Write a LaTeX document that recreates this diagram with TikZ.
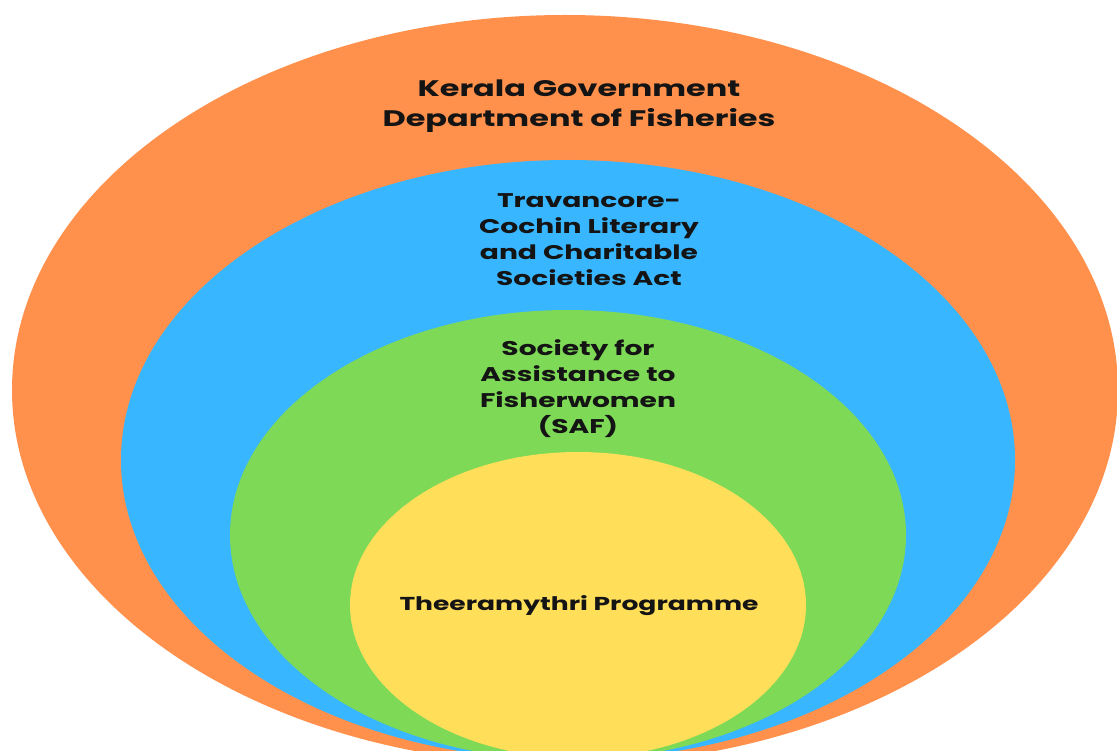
\documentclass[tikz,border=0pt]{standalone}
\usepackage{fontspec}
\setmainfont{Poppins}
\newfontfamily\widefont[FakeStretch=1.42]{Poppins}
\usetikzlibrary{shapes.geometric}
\definecolor{orng}{HTML}{FF914D}
\definecolor{blu}{HTML}{38B6FF}
\definecolor{grn}{HTML}{7ED957}
\definecolor{ylw}{HTML}{FFDE59}
\definecolor{txt}{HTML}{141414}
\begin{document}
\begin{tikzpicture}[x=1pt,y=-1pt,
  ring/.style={ellipse, inner sep=0pt, draw=none},
  lbl/.style={font=\widefont\bfseries\fontsize{19.8}{26}\selectfont, align=center, text=txt, inner sep=0pt},
  biglbl/.style={font=\widefont\bfseries\fontsize{22.5}{30}\selectfont, align=center, text=txt, inner sep=0pt}]
\useasboundingbox (0,0) rectangle (1117,751);
\clip (0,0) rectangle (1117,751);
\node[ring, fill=orng, minimum width=1106pt, minimum height=750pt] (orange) at (565,390) {};
\node[ring, fill=blu, minimum width=894pt, minimum height=600pt] (blue) at (568,460) {};
\node[ring, fill=grn, minimum width=676pt, minimum height=450pt] (green) at (568,535) {};
\node[ring, fill=ylw, minimum width=456pt, minimum height=306pt] (yellow) at (578,605) {};
\node[biglbl] (korg) at (579,106) {Kerala Government\\Department of Fisheries};
\node[lbl] (tact) at (589,240) {Travancore-\\Cochin Literary\\and Charitable\\Societies Act};
\node[lbl] (saf) at (578,389) {Society for\\Assistance to\\Fisherwomen\\(SAF)};
\node[lbl, font=\widefont\bfseries\fontsize{18.7}{26}\selectfont] (prog) at (579,606) {Theeramythri Programme};
\end{tikzpicture}
\end{document}
